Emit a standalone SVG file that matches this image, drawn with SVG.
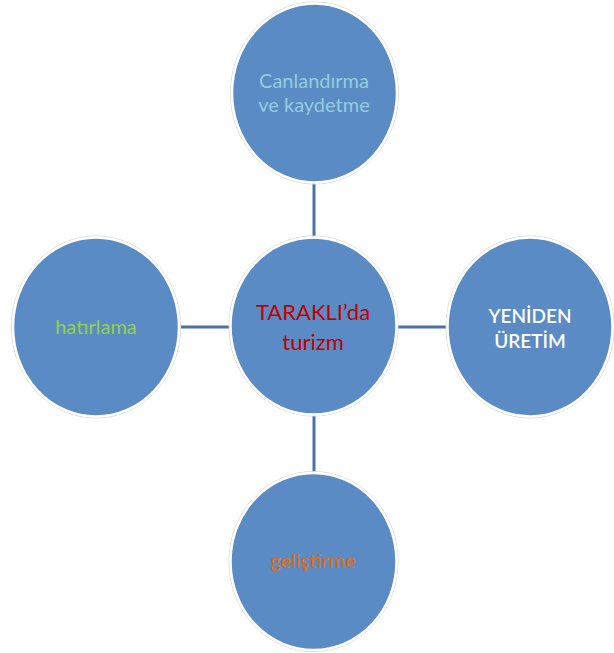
<svg xmlns="http://www.w3.org/2000/svg" width="614" height="653" viewBox="0 0 614 653">
<style>
.n{fill:#5a8bc5;stroke:#ffffff;stroke-width:2.5}
.o{fill:none;stroke:#d8d8d8;stroke-width:1}
.c{stroke:#4a72a4;stroke-width:3;fill:none}
text{font-family:Lato,"Open Sans","Liberation Sans",sans-serif;text-anchor:middle}
</style>
<rect width="614" height="653" fill="#ffffff"/>
<g id="connectors">
<line class="c" x1="314" y1="183" x2="314" y2="238"/>
<line class="c" x1="314" y1="415" x2="314" y2="472"/>
<line class="c" x1="180" y1="327" x2="231" y2="327"/>
<line class="c" x1="396" y1="327" x2="448" y2="327"/>
</g>
<g id="top">
<ellipse class="o" cx="314.5" cy="93" rx="84" ry="91"/>
<ellipse class="n" cx="314.5" cy="93" rx="82.5" ry="89.5"/>
<text x="314" y="88" font-size="20" fill="#93cddd">Canlandırma</text>
<text x="314" y="112" font-size="20" fill="#93cddd">ve kaydetme</text>
</g>
<g id="center">
<ellipse class="o" cx="313.5" cy="326" rx="84.5" ry="90"/>
<ellipse class="n" cx="313.5" cy="326" rx="83" ry="88.5"/>
<text x="313" y="320" font-size="22" fill="#c00000">TARAKLI’da</text>
<text x="313" y="350" font-size="22" fill="#c00000">turizm</text>
</g>
<g id="left">
<ellipse class="o" cx="96" cy="327" rx="84.5" ry="91"/>
<ellipse class="n" cx="96" cy="327" rx="83" ry="89.5"/>
<text x="96" y="334" font-size="20" fill="#92d050">hatırlama</text>
</g>
<g id="right">
<ellipse class="o" cx="530" cy="327" rx="84" ry="91"/>
<ellipse class="n" cx="530" cy="327" rx="82.5" ry="89.5"/>
<text x="530" y="323" font-size="19" font-weight="600" fill="#ffffff">YENİDEN</text>
<text x="530" y="348" font-size="19" font-weight="600" fill="#ffffff">ÜRETİM</text>
</g>
<g id="bottom">
<ellipse class="o" cx="313.5" cy="561.5" rx="84.5" ry="90"/>
<ellipse class="n" cx="313.5" cy="561.5" rx="83" ry="88.5"/>
<text x="313" y="568" font-size="20" fill="#e46c0a">geliştirme</text>
</g>
</svg>
